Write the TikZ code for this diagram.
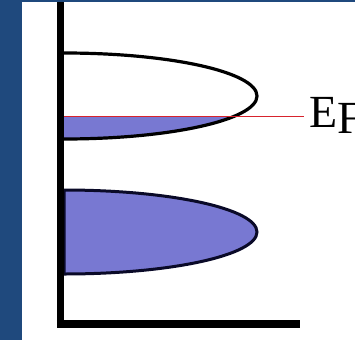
\documentclass[tikz,border=0pt]{standalone}
\usepackage{fontspec}
\setmainfont{Liberation Serif}
\definecolor{framecol}{RGB}{31,73,125}
\definecolor{dosfill}{RGB}{120,120,210}
\definecolor{edge}{RGB}{10,10,40}
\definecolor{fermi}{RGB}{215,35,45}
\begin{document}
\begin{tikzpicture}[x=1pt,y=-1pt,
  axis/.style={line width=7.5pt},
  emptyband/.style={line width=3.2pt,draw=black},
  filledband/.style={line width=3pt,draw=edge,fill=dosfill}]
\useasboundingbox (0,0) rectangle (355,340);
\fill[white] (0,0) rectangle (355,340);
% frame bands
\fill[framecol] (0,0) rectangle (22,340);
\fill[framecol] (0,0) rectangle (355,2);
% filled part of upper band (below Fermi level)
\begin{scope}
  \clip (64,116) rectangle (300,150);
  \fill[dosfill] (64,53) arc[start angle=-90,end angle=90,x radius=193,y radius=43] -- cycle;
\end{scope}
% upper band outline
\draw[emptyband] (64,53) arc[start angle=-90,end angle=90,x radius=193,y radius=43];
% lower band
\draw[filledband] (64,190) arc[start angle=-90,end angle=90,x radius=193,y radius=42] -- cycle;
% Fermi level
\node[anchor=base west,inner sep=0pt,font=\fontsize{46}{46}\selectfont] (ef) at (309,127) {E\raisebox{-6pt}{F}};
\coordinate (fl) at (64,116);
\draw[fermi,line width=0.9pt] (fl) -- (304,116);
% axes
\draw[axis] (60.5,2) -- (60.5,327.75);
\draw[axis] (56.75,324) -- (300,324);
\end{tikzpicture}
\end{document}
